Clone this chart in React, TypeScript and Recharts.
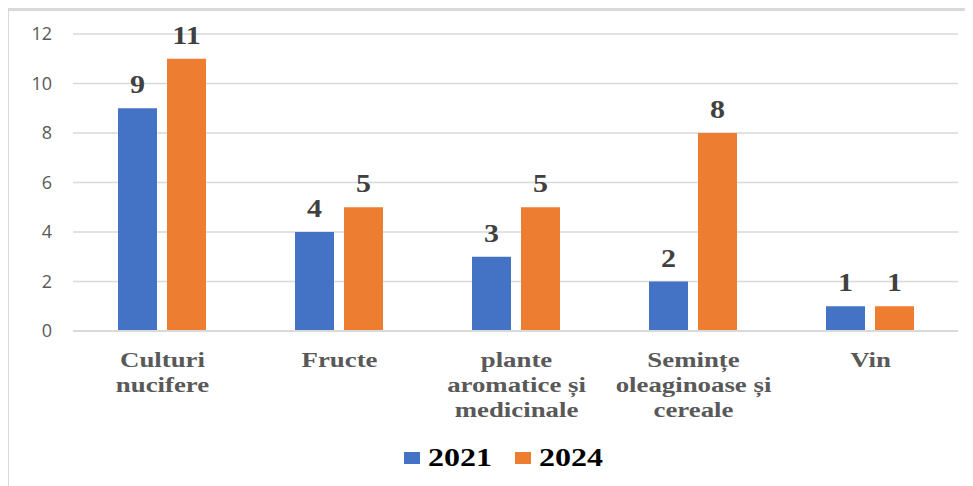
import { BarChart, Bar, XAxis, YAxis, CartesianGrid, Legend, LabelList } from 'recharts';

// category labels, already broken into lines the way they are printed under the axis
const categoryLines: string[][] = [
  ['Culturi', 'nucifere'],
  ['Fructe'],
  ['plante', 'aromatice și', 'medicinale'],
  ['Semințe', 'oleaginoase și', 'cereale'],
  ['Vin'],
];
const values2021 = [9, 4, 3, 2, 1];
const values2024 = [11, 5, 5, 8, 1];
const yTicks = [0, 2, 4, 6, 8, 10, 12];

const series = [
  { key: 'y2021', name: '2021', color: '#4472C4' },
  { key: 'y2024', name: '2024', color: '#ED7D31' },
];

const data = categoryLines.map((lines, i) => ({
  name: lines.join(' '),
  y2021: values2021[i],
  y2024: values2024[i],
}));

const SERIF = 'Liberation Serif';
const GRID = '#d9d9d9';
const WIDE = 1.2;

// wide bold serif labels: stretched horizontally a little around the tick centre
const CategoryTick = ({ x, y, payload }: any) => {
  const lines = categoryLines[payload.index] || [payload.value];
  return (
    <g transform={`translate(${x + 1},${y}) scale(1.22,1)`}>
      {lines.map((line, i) => (
        <text
          key={i}
          x={0}
          y={36 + i * 25}
          textAnchor="middle"
          fill="#595959"
          fontFamily={SERIF}
          fontWeight="bold"
          fontSize={22}
        >
          {line}
        </text>
      ))}
    </g>
  );
};

const ValueLabel = ({ x, y, width, value }: any) => (
  <g transform={`translate(${x + width / 2},${y - 15}) scale(${WIDE},1)`}>
    <text x={0} y={0} textAnchor="middle" fill="#404040" fontFamily={SERIF} fontWeight="bold" fontSize={25}>
      {value}
    </text>
  </g>
);

const renderLegend = () => (
  <div
    style={{
      display: 'flex',
      justifyContent: 'center',
      alignItems: 'center',
      height: 40,
      paddingLeft: 40,
      fontFamily: SERIF,
      fontWeight: 700,
      fontSize: 26,
      color: '#000',
    }}
  >
    {series.map((s, i) => (
      <span key={s.key} style={{ display: 'flex', alignItems: 'center', marginLeft: i ? 23 : 0 }}>
        <span style={{ width: 16, height: 12, background: s.color, marginRight: 8, display: 'inline-block' }} />
        <span style={{ display: 'inline-block', width: 64 }}>
          <span style={{ display: 'inline-block', transform: 'scaleX(1.23)', transformOrigin: 'left center' }}>
            {s.name}
          </span>
        </span>
      </span>
    ))}
  </div>
);

export default function App() {
  return (
    <div style={{ position: 'relative', width: 965, height: 478, overflow: 'hidden' }}>
      <div
        style={{
          position: 'absolute',
          left: -1,
          top: 0,
          width: 1000,
          height: 520,
          borderTop: `3px solid ${GRID}`,
          borderLeft: `2px solid ${GRID}`,
        }}
      />
      <BarChart
        width={965}
        height={478}
        data={data}
        margin={{ top: 26, right: 15, left: 0, bottom: 8 }}
        barGap={10}
      >
        <CartesianGrid vertical={false} stroke={GRID} strokeWidth={1.5} />
        <XAxis
          dataKey="name"
          axisLine={{ stroke: GRID, strokeWidth: 2 }}
          tickLine={false}
          tickSize={0}
          tickMargin={0}
          height={107}
          interval={0}
          tick={<CategoryTick />}
        />
        <YAxis
          domain={[0, 12]}
          ticks={yTicks}
          width={65}
          axisLine={false}
          tickLine={false}
          tickSize={0}
          tickMargin={21}
          tick={{ fill: '#595959', fontSize: 18, fontFamily: '"Open Sans", sans-serif' }}
        />
        <Legend verticalAlign="bottom" height={40} content={renderLegend} />
        {series.map((s) => (
          <Bar key={s.key} dataKey={s.key} name={s.name} fill={s.color} barSize={39} isAnimationActive={false}>
            <LabelList dataKey={s.key} content={<ValueLabel />} />
          </Bar>
        ))}
      </BarChart>
    </div>
  );
}
